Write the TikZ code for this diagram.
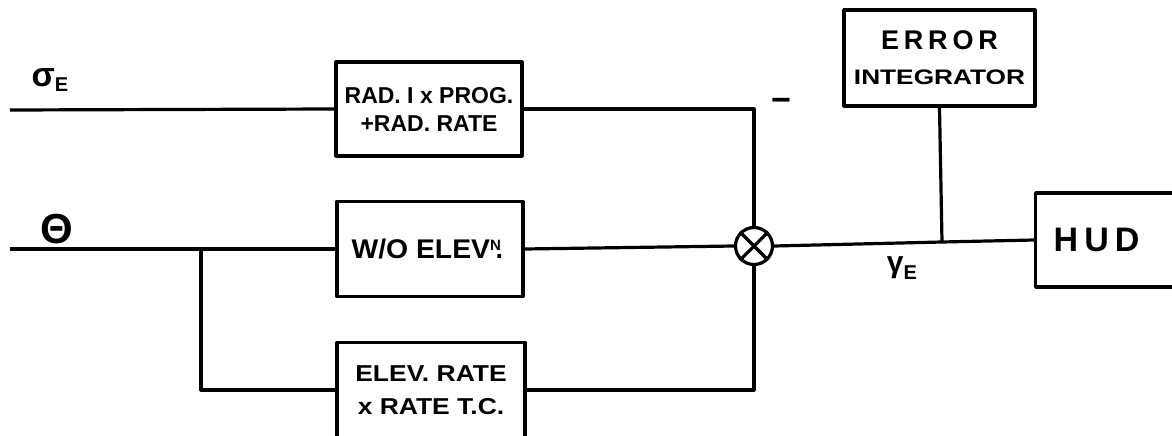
\documentclass[tikz,border=0pt]{standalone}
\usepackage{fontspec}
\setmainfont{Liberation Sans}
\newfontfamily\wide[LetterSpace=18]{Liberation Sans}
\newcommand{\hsc}[2]{\scalebox{#1}[1]{#2}}
\begin{document}
\begin{tikzpicture}[x=1pt,y=-1pt,
  line width=3.2pt, line join=round,
  blockbox/.style={draw, rectangle, inner sep=0pt, font=\bfseries\fontsize{23}{30}\selectfont, align=center},
  wire/.style={draw, line width=3.2pt},
  lbl/.style={font=\bfseries\fontsize{26}{26}\selectfont, inner sep=0pt}]
\useasboundingbox (0,0) rectangle (1172,436);

% blocks
\node[blockbox, minimum width=186pt, minimum height=94pt] (rad) at (429,109)
  {\hsc{1.0}{RAD. I x PROG.}\\[-2pt]\hsc{1.0}{+RAD. RATE}};
\node[blockbox, minimum width=186pt, minimum height=95pt] (wo) at (430,249)
  {\fontsize{27}{27}\selectfont\hsc{1.05}{W/O ELEV}\raisebox{0.55ex}{\fontsize{15}{15}\selectfont N}\kern-0.2em.\kern0.2em};
\node[blockbox, minimum width=188pt, minimum height=95pt] (elev) at (431,390)
  {\hsc{1.15}{ELEV. RATE}\\[3pt]\hsc{1.15}{x RATE T.C.}};
\node[blockbox, minimum width=191pt, minimum height=96pt] (err) at (939.5,58)
  {{\wide\fontsize{27}{27}\selectfont ERROR}\\[5pt]{\fontsize{21}{21}\selectfont\hsc{1.25}{INTEGRATOR}}};
\node[blockbox, minimum width=150pt, minimum height=94pt, anchor=west,
  font=\bfseries\fontsize{34}{34}\selectfont] (hud) at (1034,240)
  {\hspace*{-28pt}{\wide HUD}};
\node[draw, circle, minimum size=37pt, inner sep=0pt] (mult) at (754,246) {};
\draw[line width=3.2pt] (mult.north east) -- (mult.south west)
  (mult.north west) -- (mult.south east);

% labels
\node[lbl, font=\bfseries\fontsize{34}{34}\selectfont] (sig) at (50,80) {σ\raisebox{-0.3ex}{\fontsize{20}{20}\selectfont E}};
\node[lbl, font=\bfseries\fontsize{42}{42}\selectfont] (th) at (57,229) {Θ};
\node[lbl, font=\bfseries\fontsize{30}{30}\selectfont] (gam) at (902,268) {γ\raisebox{-0.45ex}{\fontsize{20}{20}\selectfont E}};
\node[lbl, font=\bfseries\fontsize{34}{34}\selectfont] (minus) at (781,105) {−};

% coordinates
\coordinate (sigin) at (10,110);
\coordinate (thin) at (10,249);
\coordinate (br) at (201,249);
\coordinate (j) at (942,242);

% connectors
\draw[wire] (sigin) -- (rad.west);
\draw[wire] (thin) -- (wo.west);
\draw[wire] (br) |- (elev.west);
\draw[wire] (rad.east) -| (mult.north);
\draw[wire] (wo.east) -- (mult.west);
\draw[wire] (elev.east) -| (mult.south);
\draw[wire] (mult.east) -- (j) -- (hud.west);
\draw[wire] (err.south) -- (j);
\end{tikzpicture}
\end{document}
